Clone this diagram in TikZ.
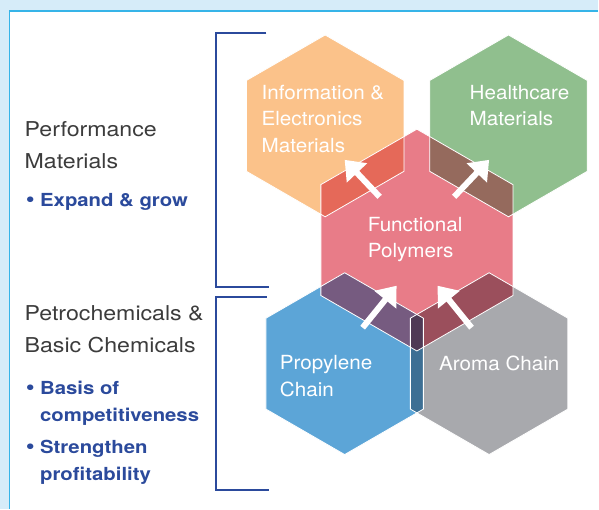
\documentclass[tikz,border=0pt]{standalone}
\usepackage{fontspec}
\setmainfont{TeX Gyre Heros}
\newfontfamily\hexfont{TeX Gyre Heros}[FakeStretch=1.06]
\newfontfamily\sidefont{TeX Gyre Heros}[FakeStretch=1.13]
\usetikzlibrary{arrows.meta}

\definecolor{bgblue}{HTML}{D6ECF9}
\definecolor{frameblue}{HTML}{36B4E8}
\definecolor{navy}{HTML}{2B4A9C}
\definecolor{textgrey}{HTML}{3C3C3C}
\definecolor{hexorange}{HTML}{FBC28A}
\definecolor{hexgreen}{HTML}{90BF8E}
\definecolor{hexpink}{HTML}{E87C88}
\definecolor{hexblue}{HTML}{5CA5D7}
\definecolor{hexgrey}{HTML}{A8A9AD}
\definecolor{ovred}{HTML}{E56959}
\definecolor{ovbrown}{HTML}{956A5D}
\definecolor{ovpurple}{HTML}{765B80}
\definecolor{ovmaroon}{HTML}{9B4F5C}
\definecolor{ovteal}{HTML}{3D6F94}
\definecolor{ovdark}{HTML}{4F3A55}

% pointy-top hexagon round the current point
\newcommand{\hexpath}[1]{+(90:#1) -- +(30:#1) -- +(-30:#1) -- +(-90:#1) -- +(-150:#1) -- +(150:#1) -- cycle}
\newcommand{\goalmark}{\llap{\scalebox{1.25}{\textbullet}\hspace{5.5pt}}}

\tikzset{
  hexline/.style={white, line width=0.8},
  bracket/.style={navy, line width=2},
  flow/.style={white, line width=6, -{Triangle[length=18pt,width=27pt]}},
  hextext/.style={anchor=base west, align=left, inner sep=0, text=white,
    font=\hexfont\fontsize{19.5}{26.7}\selectfont},
  sidetext/.style={anchor=base west, align=left, inner sep=0, text=textgrey,
    font=\sidefont\fontsize{20.5}{31.8}\selectfont},
  goaltext/.style={anchor=base west, align=left, inner sep=0, text=navy,
    font=\sidefont\bfseries\fontsize{18}{26.7}\selectfont}
}

\begin{document}
\begin{tikzpicture}[x=1pt, y=-1pt]
    % panel
    \fill[bgblue] (0,0) rectangle (599,509);
    \fill[white] (9.5,11) rectangle (599,509);
    \draw[frameblue, line width=1.2] (9.5,509) -- (9.5,11) -- (599,11);

    % brackets
    \draw[bracket] (266.7,32.7) -- (216.7,32.7) -- (216.7,287.7) -- (269.3,287.7);
    \draw[bracket] (267,297.7) -- (216.7,297.7) -- (216.7,490) -- (269.3,490);

    % hexagon centres
    \coordinate (orc) at (325.5,126);
    \coordinate (grc) at (509,126);
    \coordinate (pkc) at (417.3,240.3);
    \coordinate (blc) at (345,364);
    \coordinate (gyc) at (489.6,364);

    \fill[hexorange] (orc) \hexpath{91};
    \fill[hexgreen] (grc) \hexpath{91};
    \fill[hexpink] (pkc) \hexpath{111};
    \fill[hexblue] (blc) \hexpath{91};
    \fill[hexgrey] (gyc) \hexpath{91};

    % overlaps
    \begin{scope}
        \clip (pkc) \hexpath{111};
        \fill[ovred] (orc) \hexpath{91};
        \fill[ovbrown] (grc) \hexpath{91};
        \fill[ovpurple] (blc) \hexpath{91};
        \fill[ovmaroon] (gyc) \hexpath{91};
    \end{scope}
    \begin{scope}
        \clip (blc) \hexpath{91};
        \fill[ovteal] (gyc) \hexpath{91};
        \clip (gyc) \hexpath{91};
        \fill[ovdark] (pkc) \hexpath{111};
    \end{scope}
    \foreach \c/\r in {orc/91, grc/91, pkc/111, blc/91, gyc/91}
        \draw[hexline] (\c) \hexpath{\r};

    % arrows
    \coordinate (infotail) at (380,197);
    \coordinate (infohead) at (345,160);
    \coordinate (caretail) at (454.6,197);
    \coordinate (carehead) at (489.6,160);
    \coordinate (propytail) at (363,328);
    \coordinate (propyhead) at (397,286);
    \coordinate (aromatail) at (472,328);
    \coordinate (aromahead) at (438,286);
    \draw[flow] (infotail) -- (infohead);
    \draw[flow] (caretail) -- (carehead);
    \draw[flow] (propytail) -- (propyhead);
    \draw[flow] (aromatail) -- (aromahead);

    % hexagon labels (placed at the last baseline)
    \node[hextext] (info) at (261.7,152.7) {Information \&\\Electronics\\Materials};
    \node[hextext] (care) at (470,126) {Healthcare\\Materials};
    \node[hextext] (func) at (368,258) {Functional\\Polymers};
    \node[hextext] (propy) at (280,396.7) {Propylene\\Chain};
    \node[hextext] (aroma) at (439.3,370.7) {Aroma Chain};

    % side labels
    \node[sidetext] (perf) at (24.5,168.3) {Performance\\Materials};
    \node[goaltext] (expand) at (40,206.7) {\goalmark Expand \& grow};
    \node[sidetext] (petro) at (24.5,352.7) {Petrochemicals \&\\Basic Chemicals};
    \node[goaltext] (basis) at (40,421.7) {\goalmark Basis of\\competitiveness};
    \node[goaltext] (profit) at (40,480.5) {\goalmark Strengthen\\profitability};
\end{tikzpicture}
\end{document}
